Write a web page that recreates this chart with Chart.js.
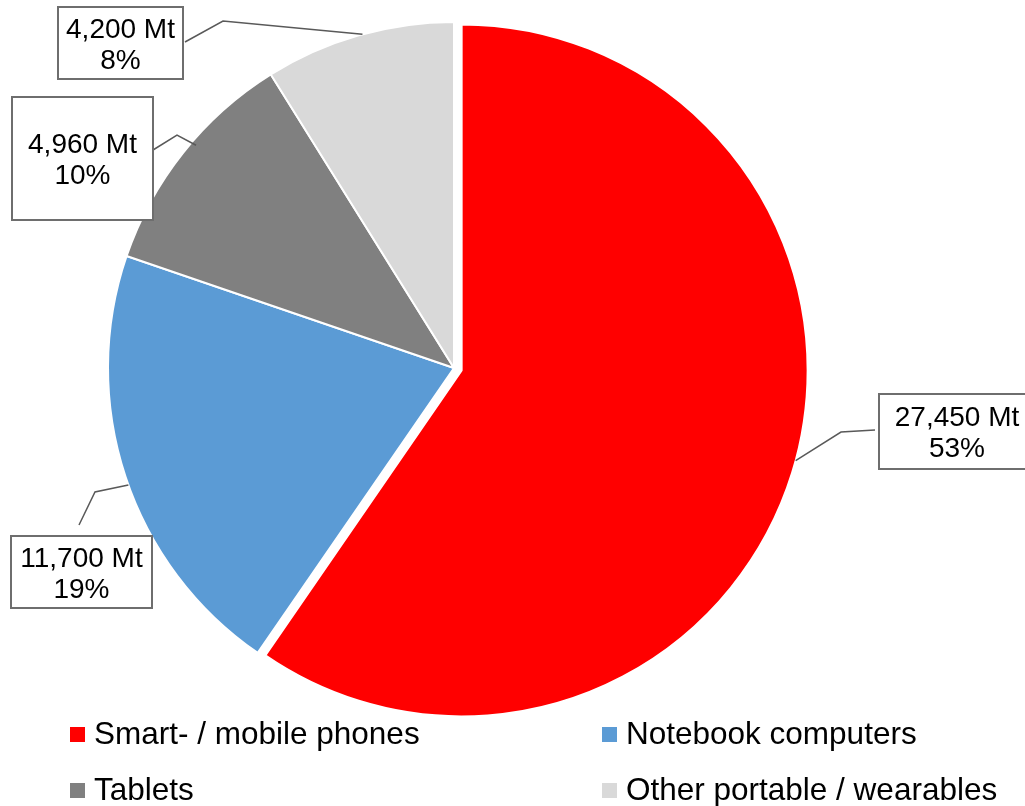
<!DOCTYPE html>
<html>
<head>
<meta charset="utf-8">
<script src="https://cdn.jsdelivr.net/npm/chart.js@4.4.1/dist/chart.umd.min.js"></script>
<style>
    html, body { margin: 0; padding: 0; background: #fff; }
    #wrap { width: 1025px; height: 806px; }
</style>
</head>
<body>
<div id="wrap"><canvas id="pie" width="1025" height="806"></canvas></div>
<script>
// Device categories, in drawing order (clockwise from 12 o'clock)
const categories = ['Smart- / mobile phones', 'Notebook computers', 'Tablets', 'Other portable / wearables'];
// Amounts shown in the labels (Mt)
const tonnes = [27450, 11700, 4960, 4200];
// Percentages printed in the labels
const shareLabels = [53, 19, 10, 8];
// Slice sizes (same scale as the labels)
const sliceShares = [53.7, 18.6, 9.8, 8.0];
const colors = ['#ff0000', '#5b9bd5', '#808080', '#d9d9d9'];
// How far each slice is pulled out of the pie (px)
const explode = [8, 0, 0, 0];

const FONT = '"Liberation Sans", Arial, sans-serif';

// Callout placement, relative to the pie centre
// at = where along the slice the leader starts, r = fraction of the radius
const labelLayout = [
    { at: 0.49, r: 1.00, elbow: [387, 64], end: [421, 62], box: [503, 63.5], w: 156, h: 75 },
    { at: 0.48, r: 1.00, elbow: [-359, 124], end: [-375, 157], box: [-372.5, 204], w: 141, h: 72 },
    { at: 0.56, r: 0.985, elbow: [-277, -233], end: [-301, -218], box: [-371.5, -209.5], w: 141, h: 123 },
    { at: 0.52, r: 1.00, elbow: [-231, -347], end: [-269, -326], box: [-333.5, -325], w: 125, h: 72 }
];

// Legend grid: two columns, two rows
const legendCols = [70, 602];
const legendRows = [744, 800];

// Draw the slices ourselves so a slice can be pulled out without growing it
const explodePlugin = {
    id: 'explode',
    beforeDatasetDraw(chart, args) {
        const ctx = chart.ctx;
        args.meta.data.forEach((arc, i) => {
            const mid = (arc.startAngle + arc.endAngle) / 2;
            ctx.save();
            ctx.translate(Math.cos(mid) * explode[i], Math.sin(mid) * explode[i]);
            arc.draw(ctx);
            ctx.restore();
        });
        return false;
    }
};

// Leader lines and value boxes
const calloutPlugin = {
    id: 'callouts',
    afterDatasetsDraw(chart) {
        const ctx = chart.ctx;
        const meta = chart.getDatasetMeta(0);
        ctx.save();
        meta.data.forEach((arc, i) => {
            const p = arc.getProps(['x', 'y', 'startAngle', 'endAngle', 'outerRadius']);
            const lay = labelLayout[i];
            const mid = (p.startAngle + p.endAngle) / 2;
            const a = p.startAngle + (p.endAngle - p.startAngle) * lay.at;
            const cx = p.x + Math.cos(mid) * explode[i];
            const cy = p.y + Math.sin(mid) * explode[i];
            const sx = cx + Math.cos(a) * p.outerRadius * lay.r;
            const sy = cy + Math.sin(a) * p.outerRadius * lay.r;

            ctx.strokeStyle = '#595959';
            ctx.lineWidth = 1.5;
            ctx.beginPath();
            ctx.moveTo(sx, sy);
            ctx.lineTo(p.x + lay.elbow[0], p.y + lay.elbow[1]);
            ctx.lineTo(p.x + lay.end[0], p.y + lay.end[1]);
            ctx.stroke();

            const bx = p.x + lay.box[0];
            const by = p.y + lay.box[1];
            ctx.fillStyle = '#ffffff';
            ctx.fillRect(bx - lay.w / 2, by - lay.h / 2, lay.w, lay.h);
            ctx.strokeStyle = '#6e6e6e';
            ctx.lineWidth = 2;
            ctx.strokeRect(bx - lay.w / 2, by - lay.h / 2, lay.w, lay.h);

            ctx.fillStyle = '#000000';
            ctx.font = '28px ' + FONT;
            ctx.textAlign = 'center';
            ctx.textBaseline = 'alphabetic';
            ctx.fillText(tonnes[i].toLocaleString('en-US') + ' Mt', bx, by - 5.5);
            ctx.fillText(shareLabels[i] + '%', bx, by + 25.5);
        });
        ctx.restore();
    }
};

// Two-column legend under the pie
const legendPlugin = {
    id: 'gridLegend',
    afterDraw(chart) {
        const ctx = chart.ctx;
        const ds = chart.data.datasets[0];
        ctx.save();
        ctx.font = '31.5px ' + FONT;
        ctx.textAlign = 'left';
        ctx.textBaseline = 'alphabetic';
        chart.data.labels.forEach((label, i) => {
            const x = legendCols[i % 2];
            const y = legendRows[Math.floor(i / 2)];
            ctx.fillStyle = ds.backgroundColor[i];
            ctx.fillRect(x, y - 17, 15, 15);
            ctx.fillStyle = '#000000';
            ctx.fillText(label, x + 24, y);
        });
        ctx.restore();
    }
};

const ctx = document.getElementById('pie').getContext('2d');
const pieChart = new Chart(ctx, {
    type: 'pie',
    data: {
        labels: categories,
        datasets: [{
            data: sliceShares,
            backgroundColor: colors,
            borderColor: '#ffffff',
            borderWidth: 2
        }]
    },
    options: {
        responsive: false,
        animation: false,
        layout: {
            padding: { top: 21, bottom: 91, left: 0, right: 117 }
        },
        plugins: {
            legend: { display: false },
            tooltip: { enabled: false }
        }
    },
    plugins: [explodePlugin, calloutPlugin, legendPlugin]
});
</script>
</body>
</html>
